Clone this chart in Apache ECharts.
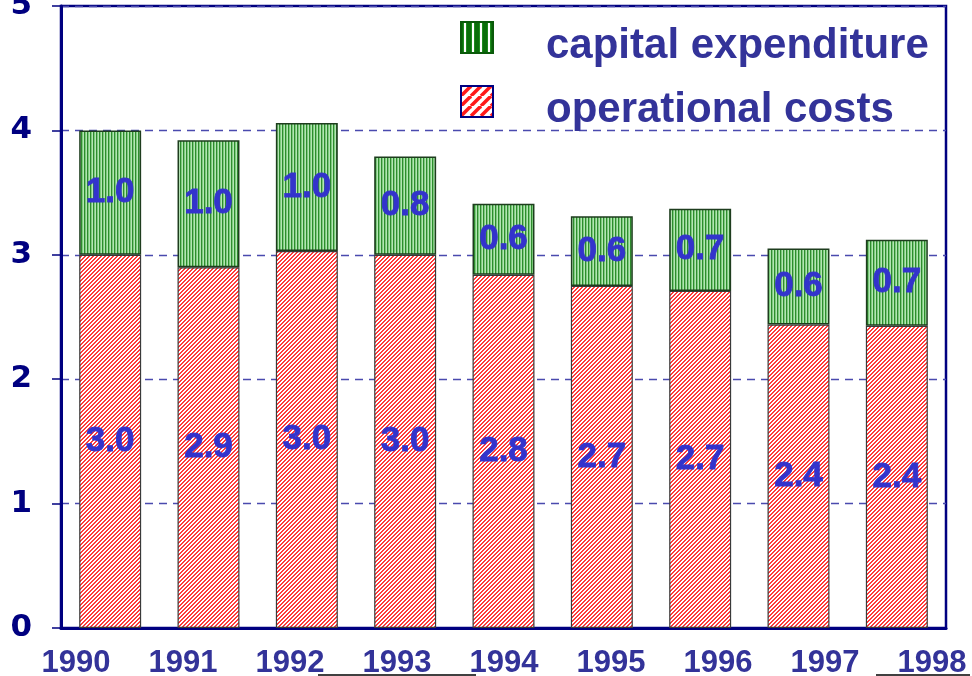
<!DOCTYPE html>
<html>
<head>
<meta charset="utf-8">
<script src="https://cdn.jsdelivr.net/npm/echarts@6/dist/echarts.min.js"></script>
<style>
html,body{margin:0;padding:0;background:#fff;}
#chart{width:972px;height:676px;}
</style>
</head>
<body>
<div id="chart"></div>
<script>
// ---- data ----
var years = ['1990','1991','1992','1993','1994','1995','1996','1997','1998'];
var operationalCosts = [3.00, 2.90, 3.03, 3.00, 2.84, 2.75, 2.71, 2.44, 2.43];
var capitalExpenditure = [1.00, 1.02, 1.03, 0.79, 0.57, 0.56, 0.66, 0.61, 0.69];
var operationalLabels = ['3.0','2.9','3.0','3.0','2.8','2.7','2.7','2.4','2.4'];
var capitalLabels = ['1.0','1.0','1.0','0.8','0.6','0.6','0.7','0.6','0.7'];
var yTicks = [0, 1, 2, 3, 4, 5];

// ---- patterns ----
function makeTile(w, h, fn) {
  var c = document.createElement('canvas');
  c.width = w; c.height = h;
  var ctx = c.getContext('2d');
  for (var y = 0; y < h; y++) {
    for (var x = 0; x < w; x++) {
      ctx.fillStyle = fn(x, y);
      ctx.fillRect(x, y, 1, 1);
    }
  }
  return c;
}
var greenTile = makeTile(3, 1, function (x) {
  return ['#2e8b2e', '#7ccc7c', '#b4e4b4'][x];
});
var redTile = makeTile(4, 4, function (x, y) {
  return ((x + y) % 4) < 2 ? '#ff3a3a' : '#ffffff';
});
var greenLegendTile = makeTile(8, 1, function (x) {
  return ['#0a6e0a', '#0a6e0a', '#1f8a1f', '#ffffff', '#ffffff', '#1f8a1f', '#0a6e0a', '#0a6e0a'][x];
});
var redLegendTile = (function () {
  var c = document.createElement('canvas');
  c.width = 10; c.height = 10;
  var ctx = c.getContext('2d');
  ctx.fillStyle = '#ffffff';
  ctx.fillRect(0, 0, 10, 10);
  ctx.strokeStyle = '#ff1a1a';
  ctx.lineWidth = 3.5;
  for (var k = -10; k <= 20; k += 10) {
    ctx.beginPath();
    ctx.moveTo(k, 10); ctx.lineTo(k + 10, 0);
    ctx.stroke();
  }
  return c;
})();
var greenPattern = { image: greenTile, repeat: 'repeat' };
var redPattern = { image: redTile, repeat: 'repeat' };

var FONT = "'Liberation Sans', Arial, sans-serif";
var WIDE = "'DejaVu Sans', Verdana, sans-serif";

var barLabel = {
  show: true, position: 'inside',
  fontFamily: FONT, fontWeight: 'bold', fontSize: 35, color: '#3333cc',
  textBorderColor: '#3333cc', textBorderWidth: 0.8
};

var chart = echarts.init(document.getElementById('chart'), null, { renderer: 'canvas' });
var option = {
  backgroundColor: '#ffffff',
  animation: false,
  grid: [
    { left: 61, right: 26, top: 6, bottom: 48, outerBoundsMode: 'none', containLabel: false,
      show: true, borderColor: '#000080', borderWidth: 2.5 },
    { left: 76, right: 40, top: 6, bottom: 48, outerBoundsMode: 'none', containLabel: false, show: false }
  ],
  legend: {
    orient: 'vertical',
    left: 460,
    top: 7,
    padding: 0,
    itemWidth: 32,
    itemHeight: 31,
    itemGap: 3,
    icon: 'rect',
    formatter: '{s| }{t|{name}}',
    textStyle: {
      fontFamily: FONT, fontWeight: 'bold', fontSize: 42, color: '#333399',
      rich: {
        s: { width: 48, height: 61, lineHeight: 61, fontSize: 10 },
        t: { fontFamily: FONT, fontWeight: 'bold', fontSize: 42, color: '#333399',
             lineHeight: 44, height: 44, verticalAlign: 'bottom' }
      }
    },
    data: [
      { name: 'capital expenditure', itemStyle: { color: { image: greenLegendTile, repeat: 'repeat' }, borderColor: '#0a5a0a', borderWidth: 2 } },
      { name: 'operational costs', itemStyle: { color: { image: redLegendTile, repeat: 'repeat' }, borderColor: '#000080', borderWidth: 2 } }
    ]
  },
  xAxis: [
    {
      type: 'category', gridIndex: 0, data: years,
      axisLine: { show: true, lineStyle: { color: '#000080', width: 3 } },
      axisTick: { show: false },
      axisLabel: { show: false }
    },
    {
      type: 'category', gridIndex: 1, data: years, boundaryGap: false,
      axisLine: { show: false }, axisTick: { show: false }, splitLine: { show: false },
      axisLabel: { show: true, margin: 20, fontFamily: FONT, fontWeight: 'bold', fontSize: 31, color: '#333399' }
    }
  ],
  yAxis: [
    {
      type: 'value', gridIndex: 0, min: yTicks[0], max: yTicks[yTicks.length - 1], interval: 1,
      axisLine: { show: true, lineStyle: { color: '#000080', width: 3 } },
      axisTick: { show: true, length: 9, lineStyle: { color: '#000080', width: 1.5 } },
      axisLabel: { margin: 29, fontFamily: WIDE, fontWeight: 'bold', fontSize: 31, color: '#000080' },
      splitLine: { show: true, lineStyle: { color: '#4a4aae', width: 1.3, type: [8, 6] } }
    },
    { type: 'value', gridIndex: 1, show: false, min: 0, max: 5 }
  ],
  series: [
    {
      name: 'operational costs', type: 'bar', stack: 'total', xAxisIndex: 0, yAxisIndex: 0,
      barWidth: '63%',
      data: operationalCosts,
      itemStyle: { color: redPattern, borderColor: '#3a3a3a', borderWidth: 1.2 },
      label: Object.assign({}, barLabel, {
        formatter: function (p) { return operationalLabels[p.dataIndex]; }
      })
    },
    {
      name: 'capital expenditure', type: 'bar', stack: 'total', xAxisIndex: 0, yAxisIndex: 0,
      barWidth: '63%',
      data: capitalExpenditure,
      itemStyle: { color: greenPattern, borderColor: '#1e3d1e', borderWidth: 1.5 },
      label: Object.assign({}, barLabel, {
        formatter: function (p) { return capitalLabels[p.dataIndex]; }
      })
    }
  ],
  graphic: [
    { type: 'line', shape: { x1: 318, y1: 675, x2: 476, y2: 675 }, style: { stroke: '#000000', lineWidth: 1.5 } },
    { type: 'line', shape: { x1: 876, y1: 675, x2: 970, y2: 675 }, style: { stroke: '#000000', lineWidth: 1.5 } }
  ]
};
chart.setOption(option);
</script>
</body>
</html>
